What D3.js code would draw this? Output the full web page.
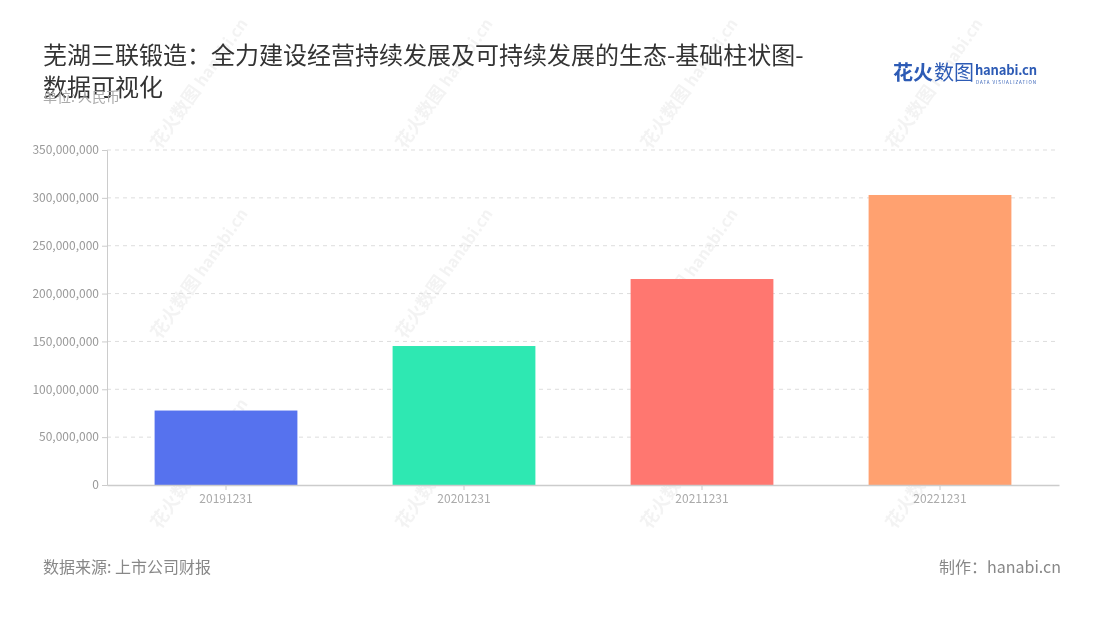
<!DOCTYPE html>
<html><head><meta charset="utf-8">
<script src="https://cdn.jsdelivr.net/npm/d3@7"></script>
<style>body{margin:0;background:#fff;font-family:"Noto Sans CJK SC","Noto Sans",sans-serif;}</style>
</head><body><svg id="c" width="1100" height="620"></svg>
<script>
const categories = ["20191231","20201231","20211231","20221231"];
const values = [77800000, 145200000, 215200000, 303000000];
const colors = ["#5672ee","#2ee8b2","#ff7770","#ffa170"];
const yTicks = [0,50000000,100000000,150000000,200000000,250000000,300000000,350000000];

const svg = d3.select("#c");
const font = '"Noto Sans CJK SC","Noto Sans",sans-serif';
const m = {l:107, r:1059, t:150, b:485};

// watermarks
const wm = svg.append("g").attr("opacity",0.1);
[160,405,650,895].forEach(x=>{[150,340,530].forEach(y=>{
  const g = wm.append("g").attr("transform",`translate(${x},${y}) rotate(-55)`);
  g.append("text").attr("font-family",font).attr("font-size",18).attr("font-weight","bold").attr("fill","#888").text("花火数图");
  g.append("text").attr("x",76).attr("font-family",font).attr("font-size",16).attr("font-weight","bold").attr("fill","#888").text("hanabi.cn");
});});

const x = d3.scaleBand().domain(categories).range([m.l,m.r]).paddingInner(0.4).paddingOuter(0.2);
const y = d3.scaleLinear().domain([0,350000000]).range([m.b,m.t]);

// grid
svg.append("g").selectAll("line").data(yTicks.slice(1)).join("line")
  .attr("x1",m.l).attr("x2",m.r).attr("y1",d=>y(d)).attr("y2",d=>y(d))
  .attr("stroke","#ddd").attr("stroke-dasharray","4,4");

// bars
svg.append("g").selectAll("rect").data(values).join("rect")
  .attr("x",(d,i)=>x(categories[i])).attr("width",x.bandwidth())
  .attr("y",d=>y(d)).attr("height",d=>m.b-y(d))
  .attr("fill",(d,i)=>colors[i]);

// y axis
const ya = svg.append("g").attr("transform",`translate(${m.l},0)`)
  .call(d3.axisLeft(y).tickValues(yTicks).tickFormat(d3.format(",")).tickSize(5).tickPadding(3));
ya.select(".domain").attr("stroke","#ccc");
ya.selectAll(".tick line").attr("stroke","#ccc");
ya.selectAll("text").attr("fill","#999").attr("font-size",12).attr("font-family",font);

// x axis
const xa = svg.append("g").attr("transform",`translate(0,${m.b})`)
  .call(d3.axisBottom(x).tickSize(5).tickPadding(4).tickSizeOuter(0));
xa.select(".domain").attr("stroke","#ccc").attr("stroke-width",1.5);
xa.selectAll(".tick line").attr("stroke","#ccc");
xa.selectAll("text").attr("fill","#aaa").attr("font-size",12).attr("font-family",font);

// title
const t = svg.append("text").attr("font-family",font).attr("font-size",24).attr("fill","#333");
t.append("tspan").attr("x",43).attr("y",64).text("芜湖三联锻造：全力建设经营持续发展及可持续发展的生态-基础柱状图-");
t.append("tspan").attr("x",43).attr("y",96).text("数据可视化");
svg.append("text").attr("x",43).attr("y",102).attr("font-family",font).attr("font-size",14).attr("fill","#aaa").text("单位: 人民币");

// logo
svg.append("text").attr("x",893).attr("y",80).attr("font-family",font).attr("font-size",20).attr("font-weight","bold").attr("fill","#2d5bb5").text("花火");
svg.append("text").attr("x",934).attr("y",80).attr("font-family",font).attr("font-size",20).attr("fill","#2d5bb5").text("数图");
svg.append("text").attr("x",975).attr("y",75).attr("font-family",font).attr("font-size",13).attr("font-weight","bold").attr("fill","#2d5bb5").attr("textLength",62).text("hanabi.cn");
svg.append("text").attr("x",976).attr("y",84).attr("font-family",font).attr("font-size",4.5).attr("fill","#2d5bb5").attr("textLength",60).text("DATA VISUALIZATION");

// footer
svg.append("text").attr("x",43).attr("y",573).attr("font-family",font).attr("font-size",16).attr("fill","#888").text("数据来源: 上市公司财报");
svg.append("text").attr("x",1061).attr("y",573).attr("text-anchor","end").attr("font-family",font).attr("font-size",16).attr("fill","#888").text("制作：hanabi.cn");
</script></body></html>
